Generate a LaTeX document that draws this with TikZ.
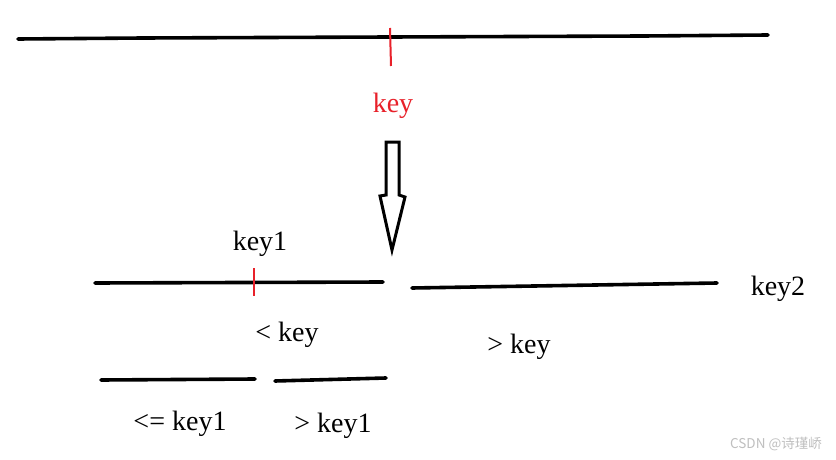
\documentclass[tikz,border=0pt]{standalone}
\usepackage{fontspec}
\setmainfont{Liberation Serif}
\newfontfamily\cjkwm{Noto Sans CJK SC}
\definecolor{keyred}{HTML}{E8212A}
\begin{document}
\begin{tikzpicture}[x=1pt,y=-1pt,
  seg/.style={line width=3.6pt,line cap=round},
  tick/.style={draw=keyred,line width=2pt},
  lbl/.style={font=\fontsize{28}{30}\selectfont,inner sep=0pt},
  arrowshape/.style={draw,line width=3pt,fill=white,line join=miter}]
\useasboundingbox (0,0) rectangle (836,460);
\fill[white] (0,0) rectangle (836,460);
% top line
\coordinate (t1) at (18,39);
\coordinate (t2) at (143,38);
\coordinate (t3) at (390,37);
\coordinate (t4) at (643,36);
\coordinate (t5) at (768,35);
\draw[seg] (t1) -- (t2) -- (t3) -- (t4) -- (t5);
\coordinate (rk1) at (390,28);
\coordinate (rk2) at (391,66);
\draw[tick] (rk1) -- (rk2);
\node[lbl,text=keyred] (key) at (393,106) {key};
% hollow arrow
\draw[arrowshape] (386,142) -- (399,142) -- (399,195) -- (405,197) -- (392,250) -- (380,196) -- (386,195) -- cycle;
% middle lines
\coordinate (m1) at (95,283);
\coordinate (m2) at (383,282);
\draw[seg] (m1) -- (m2);
\coordinate (rt1) at (254,268);
\coordinate (rt2) at (254,296);
\draw[tick] (rt1) -- (rt2);
\node[lbl] (key1) at (260,244) {key1};
\coordinate (n1) at (412,288);
\coordinate (n2) at (717,283);
\draw[seg] (n1) -- (n2);
\node[lbl] (key2) at (778,289) {key2};
\node[lbl] (lt) at (287,335) {< key};
\node[lbl] (gt) at (519,347) {> key};
% lower lines
\coordinate (l1) at (101,380);
\coordinate (l2) at (255,379);
\draw[seg] (l1) -- (l2);
\coordinate (r1) at (275,381);
\coordinate (r2) at (386,378);
\draw[seg] (r1) -- (r2);
\node[lbl] (le1) at (180,424) {<= key1};
\node[lbl] (gt1) at (333,426) {> key1};
% watermark
\node[font=\cjkwm\fontsize{13.5}{15}\selectfont,text=black!25,inner sep=0pt] (wm) at (776,444) {CSDN @诗瑾峤};
\end{tikzpicture}
\end{document}
